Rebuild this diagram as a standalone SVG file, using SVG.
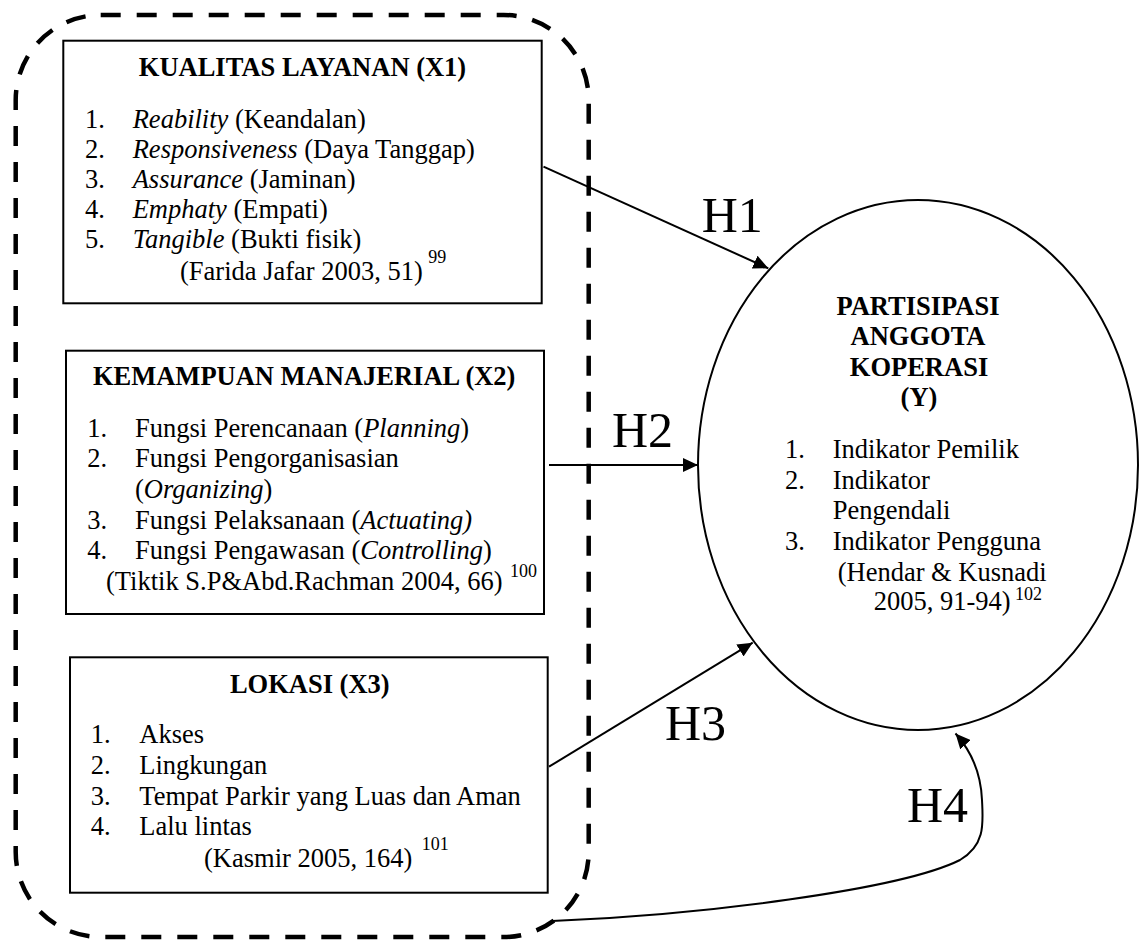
<svg xmlns="http://www.w3.org/2000/svg" width="1146" height="940" viewBox="0 0 1146 940">
<defs>
<style>
text { font-family: "Liberation Serif", "Times New Roman", serif; fill: #000; }
.t { font-size: 26.5px; font-weight: bold; text-anchor: middle; }
.b { font-size: 26.5px; }
.i { font-style: italic; }
.s { font-size: 18px; }
.h { font-size: 50px; }
.box { fill: #fff; stroke: #000; stroke-width: 2; }
.conn { fill: none; stroke: #000; stroke-width: 2; }
.grp { fill: none; stroke: #000; stroke-width: 4.5; stroke-dasharray: 20 16; }
</style>
<marker id="ah" markerUnits="userSpaceOnUse" markerWidth="16" markerHeight="14" refX="15" refY="7" orient="auto">
<path d="M0,0 L15,7 L0,14 z" fill="#000"/>
</marker>
</defs>
<rect width="1146" height="940" fill="#fff"/>

<g id="group-x">
<rect class="grp" x="15.7" y="15" width="573" height="922" rx="85" ry="85"/>
</g>

<g id="x1">
<rect class="box" x="63.3" y="40.7" width="478.4" height="262.6"/>
<text class="t" x="302.5" y="76">KUALITAS LAYANAN (X1)</text>
<text class="b" x="85" y="128.3">1.</text><text class="b" x="132.7" y="128.3"><tspan class="i">Reability</tspan> (Keandalan)</text>
<text class="b" x="85" y="158.3">2.</text><text class="b" x="132.7" y="158.3"><tspan class="i">Responsiveness</tspan> (Daya Tanggap)</text>
<text class="b" x="85" y="188.3">3.</text><text class="b" x="132.7" y="188.3"><tspan class="i">Assurance</tspan> (Jaminan)</text>
<text class="b" x="85" y="218.3">4.</text><text class="b" x="132.7" y="218.3"><tspan class="i">Emphaty</tspan> (Empati)</text>
<text class="b" x="85" y="248.3">5.</text><text class="b" x="132.7" y="248.3"><tspan class="i">Tangible</tspan> (Bukti fisik)</text>
<text class="b" x="180" y="280">(Farida Jafar 2003, 51)</text>
<text class="s" x="428.3" y="263.3">99</text>
</g>

<g id="x2">
<rect class="box" x="66" y="350.7" width="478" height="263.3"/>
<text class="t" x="304.2" y="385">KEMAMPUAN MANAJERIAL (X2)</text>
<text class="b" x="87.3" y="436.7">1.</text><text class="b" x="135" y="436.7">Fungsi Perencanaan (<tspan class="i">Planning</tspan>)</text>
<text class="b" x="87.3" y="467.3">2.</text><text class="b" x="135" y="467.3">Fungsi Pengorganisasian</text>
<text class="b" x="135" y="498.3">(<tspan class="i">Organizing</tspan>)</text>
<text class="b" x="87.3" y="529.3">3.</text><text class="b" x="135" y="529.3">Fungsi Pelaksanaan (<tspan class="i">Actuating)</tspan></text>
<text class="b" x="87.3" y="559.3">4.</text><text class="b" x="135" y="559.3">Fungsi Pengawasan (<tspan class="i">Controlling</tspan>)</text>
<text class="b" x="106" y="590">(Tiktik S.P&amp;Abd.Rachman 2004, 66)</text>
<text class="s" x="510" y="576.7">100</text>
</g>

<g id="x3">
<rect class="box" x="70" y="657.3" width="477.7" height="235.4"/>
<text class="t" x="309.8" y="693.3">LOKASI (X3)</text>
<text class="b" x="90.7" y="743.3">1.</text><text class="b" x="139.3" y="743.3">Akses</text>
<text class="b" x="90.7" y="774">2.</text><text class="b" x="139.3" y="774">Lingkungan</text>
<text class="b" x="90.7" y="805">3.</text><text class="b" x="139.3" y="805">Tempat Parkir yang Luas dan Aman</text>
<text class="b" x="90.7" y="835">4.</text><text class="b" x="139.3" y="835">Lalu lintas</text>
<text class="b" x="204" y="866.7">(Kasmir 2005, 164)</text>
<text class="s" x="421.7" y="850">101</text>
</g>

<g id="y">
<ellipse class="box" cx="918" cy="465" rx="220" ry="265"/>
<text class="t" x="918" y="314.6">PARTISIPASI</text>
<text class="t" x="918" y="345.2">ANGGOTA</text>
<text class="t" x="919" y="375.8">KOPERASI</text>
<text class="t" x="919" y="406.4">(Y)</text>
<text class="b" x="785" y="458">1.</text><text class="b" x="832.7" y="458">Indikator Pemilik</text>
<text class="b" x="785" y="488.7">2.</text><text class="b" x="832.7" y="488.7">Indikator</text>
<text class="b" x="832.7" y="519.3">Pengendali</text>
<text class="b" x="785" y="550">3.</text><text class="b" x="832.7" y="550">Indikator Pengguna</text>
<text class="b" x="837.7" y="580.5">(Hendar &amp; Kusnadi</text>
<text class="b" x="873.7" y="610">2005, 91-94)</text>
<text class="s" x="1015" y="600">102</text>
</g>

<g id="connectors">
<path class="conn" d="M543.5,166.7 L768.3,268.3" marker-end="url(#ah)"/>
<path class="conn" d="M549,465 L698,465" marker-end="url(#ah)"/>
<path class="conn" d="M549,766.7 L752.7,642.7" marker-end="url(#ah)"/>
<path class="conn" d="M552,921 C700,915 900,890 960,860 C986,845 983,822 982,800 C981,775 972,752 955.5,733.5" marker-end="url(#ah)"/>
<text class="h" x="701.7" y="231.7">H1</text>
<text class="h" x="612" y="446.7">H2</text>
<text class="h" x="665" y="740">H3</text>
<text class="h" x="907" y="821.7">H4</text>
</g>
</svg>
